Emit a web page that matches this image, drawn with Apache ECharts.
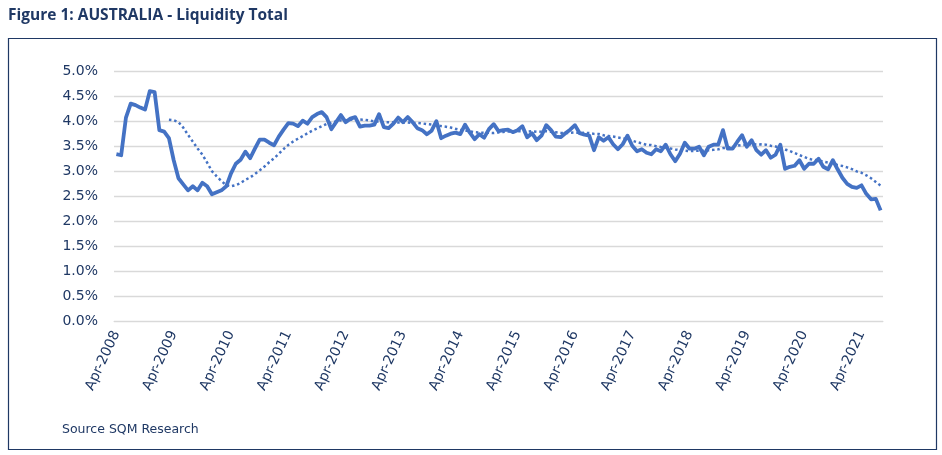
<!DOCTYPE html>
<html>
<head>
<meta charset="utf-8">
<script src="https://cdn.jsdelivr.net/npm/echarts@6/dist/echarts.min.js"></script>
<style>
html,body{margin:0;padding:0;background:#fff;}
#c{width:942px;height:455px;}
</style>
</head>
<body>
<div id="c"></div>
<script>
// Monthly categories Apr-2008 .. Aug-2021
const months = ["Jan","Feb","Mar","Apr","May","Jun","Jul","Aug","Sep","Oct","Nov","Dec"];
const categories = [];
for (let y = 2008, m = 3; y < 2021 || (y === 2021 && m <= 7); ) {
  categories.push(months[m] + "-" + y);
  m++; if (m === 12) { m = 0; y++; }
}

// Liquidity total (%)
const liquidity = [
3.34,3.32,4.07,4.35,4.32,4.27,4.23,4.60,4.58,3.82,3.79,3.66,
3.22,2.86,2.74,2.62,2.70,2.62,2.77,2.70,2.54,2.58,2.62,2.70,
2.96,3.15,3.23,3.39,3.26,3.45,3.63,3.63,3.57,3.52,3.69,3.83,
3.96,3.95,3.90,4.01,3.95,4.08,4.14,4.18,4.08,3.84,3.98,4.12,
3.98,4.05,4.08,3.89,3.91,3.91,3.93,4.14,3.88,3.86,3.95,4.07,
3.98,4.08,3.98,3.86,3.82,3.74,3.81,4.00,3.66,3.71,3.75,3.77,
3.74,3.93,3.77,3.64,3.74,3.67,3.84,3.94,3.80,3.82,3.83,3.78,
3.82,3.90,3.68,3.76,3.62,3.71,3.92,3.82,3.69,3.68,3.76,3.83,
3.92,3.76,3.73,3.71,3.42,3.68,3.61,3.68,3.54,3.44,3.54,3.71,
3.51,3.40,3.44,3.37,3.34,3.44,3.40,3.53,3.34,3.20,3.35,3.57,
3.45,3.45,3.49,3.32,3.49,3.53,3.53,3.82,3.45,3.45,3.59,3.72,
3.49,3.62,3.42,3.33,3.42,3.27,3.33,3.53,3.05,3.09,3.11,3.22,
3.05,3.15,3.15,3.25,3.09,3.04,3.22,3.04,2.87,2.75,2.69,2.67,
2.72,2.55,2.44,2.45,2.22
];

// 12-month moving-average trend (dotted)
const trend = [
null,null,null,null,null,null,null,null,null,null,null,4.029,
4.019,3.981,3.870,3.726,3.591,3.453,3.332,3.173,3.003,2.900,2.803,2.723,
2.701,2.725,2.766,2.830,2.877,2.946,3.018,3.095,3.181,3.259,3.348,3.443,
3.526,3.593,3.648,3.700,3.758,3.810,3.853,3.898,3.941,3.968,3.992,4.016,
4.018,4.026,4.041,4.031,4.028,4.013,3.996,3.993,3.976,3.978,3.975,3.971,
3.971,3.973,3.965,3.963,3.955,3.941,3.931,3.919,3.901,3.888,3.872,3.847,
3.827,3.814,3.797,3.778,3.772,3.766,3.768,3.763,3.775,3.784,3.791,3.792,
3.798,3.796,3.788,3.798,3.788,3.792,3.798,3.788,3.779,3.768,3.762,3.766,
3.774,3.763,3.767,3.763,3.746,3.743,3.718,3.706,3.693,3.673,3.655,3.645,
3.611,3.581,3.557,3.528,3.522,3.502,3.484,3.472,3.455,3.435,3.419,3.408,
3.403,3.407,3.411,3.407,3.419,3.427,3.438,3.462,3.471,3.492,3.512,3.524,
3.528,3.542,3.536,3.537,3.531,3.509,3.493,3.468,3.435,3.405,3.365,3.323,
3.287,3.248,3.225,3.218,3.191,3.172,3.163,3.122,3.107,3.078,3.043,2.998,
2.970,2.920,2.861,2.788,2.715
];

const yTicks = [0, 5, 0.5];

const navy = '#1F3864';
const blue = '#4472C4';
const chart = echarts.init(document.getElementById('c'), null, {renderer: 'canvas'});
chart.setOption({
  animation: false,
  backgroundColor: '#fff',
  title: {
    text: 'Figure 1: AUSTRALIA - Liquidity Total',
    left: 3, top: 3,
    textStyle: {fontFamily: 'Open Sans', fontWeight: 'bold', fontSize: 15.5, color: navy}
  },
  graphic: [
    {type: 'rect', shape: {x: 8.5, y: 38.5, width: 928, height: 411},
     style: {fill: 'none', stroke: navy, lineWidth: 1.2}, z: -1},
    {type: 'text', left: 62, top: 423,
     style: {text: 'Source SQM Research', font: '12.5px "DejaVu Sans"', fill: navy}}
  ],
  grid: {left: 114, right: 59, top: 71, bottom: 133.3},
  xAxis: {
    type: 'category',
    data: categories,
    boundaryGap: true,
    axisLine: {lineStyle: {color: '#D9D9D9', width: 1}},
    axisTick: {interval: 11, length: 5, lineStyle: {color: '#D9D9D9'}},
    axisLabel: {interval: 11, rotate: 65, margin: 10, fontFamily: 'DejaVu Sans', fontSize: 14, color: navy}
  },
  yAxis: {
    type: 'value',
    min: yTicks[0], max: yTicks[1], interval: yTicks[2],
    axisLine: {show: false},
    axisTick: {show: false},
    splitLine: {lineStyle: {color: '#D9D9D9', width: 1.3}},
    axisLabel: {
      margin: 16, fontFamily: 'DejaVu Sans', fontSize: 14, color: navy,
      formatter: v => v.toFixed(1) + '%'
    }
  },
  series: [
    {
      type: 'line', data: liquidity, showSymbol: false, symbol: 'none',
      lineStyle: {color: blue, width: 3.8, join: 'round'}, z: 3
    },
    {
      type: 'line', data: trend, showSymbol: false, symbol: 'none',
      lineStyle: {color: blue, width: 2.5, type: [2.5, 2.8]}, z: 2
    }
  ]
});
</script>
</body>
</html>
